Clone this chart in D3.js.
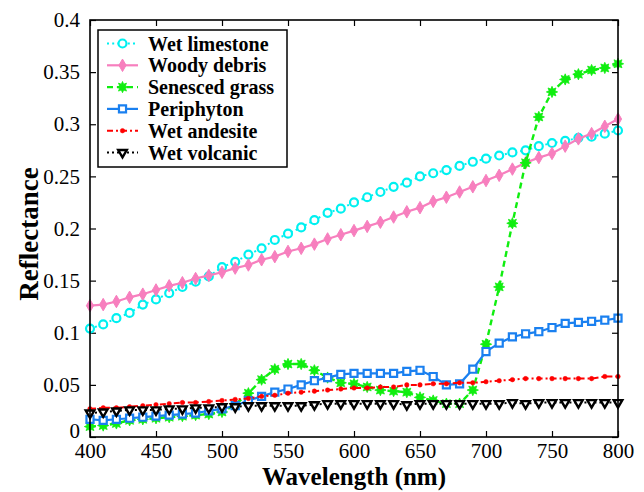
<!DOCTYPE html>
<html>
<head>
<meta charset="utf-8">
<script src="https://cdn.jsdelivr.net/npm/d3@7"></script>
<style>
  body { margin: 0; background: #fff; }
  svg text { font-family: "Liberation Serif", "DejaVu Serif", serif; }
</style>
</head>
<body>
<div id="chart"></div>
<script>
// wavelengths (nm)
const wavelengths = [400, 410, 420, 430, 440, 450, 460, 470, 480, 490, 500,
  510, 520, 530, 540, 550, 560, 570, 580, 590, 600,
  610, 620, 630, 640, 650, 660, 670, 680, 690, 700,
  710, 720, 730, 740, 750, 760, 770, 780, 790, 800];

const wetLimestone = [0.104, 0.108, 0.114, 0.119, 0.127, 0.132, 0.138, 0.144, 0.149, 0.154, 0.163,
  0.168, 0.175, 0.181, 0.189, 0.195, 0.201, 0.208, 0.215, 0.219, 0.225,
  0.230, 0.235, 0.240, 0.244, 0.250, 0.253, 0.256, 0.260, 0.264, 0.267,
  0.270, 0.273, 0.275, 0.279, 0.282, 0.284, 0.287, 0.288, 0.291, 0.294];

const woodyDebris = [0.126, 0.127, 0.130, 0.134, 0.137, 0.141, 0.145, 0.148, 0.152, 0.155, 0.158,
  0.162, 0.165, 0.170, 0.173, 0.178, 0.181, 0.185, 0.190, 0.194, 0.198,
  0.202, 0.206, 0.211, 0.216, 0.220, 0.226, 0.230, 0.235, 0.240, 0.246,
  0.251, 0.257, 0.263, 0.268, 0.272, 0.279, 0.286, 0.291, 0.298, 0.305];

const senescedGrass = [0.010, 0.011, 0.013, 0.016, 0.017, 0.018, 0.019, 0.020, 0.021, 0.022, 0.024,
  0.031, 0.042, 0.055, 0.065, 0.070, 0.070, 0.064, 0.057, 0.052, 0.051,
  0.048, 0.045, 0.044, 0.043, 0.038, 0.035, 0.032, 0.032, 0.045, 0.089,
  0.144, 0.205, 0.263, 0.307, 0.331, 0.343, 0.348, 0.352, 0.354, 0.358];

const periphyton = [0.017, 0.016, 0.017, 0.018, 0.019, 0.020, 0.021, 0.022, 0.023, 0.025, 0.027,
  0.030, 0.035, 0.039, 0.043, 0.046, 0.050, 0.054, 0.057, 0.060, 0.061,
  0.061, 0.061, 0.061, 0.063, 0.064, 0.058, 0.050, 0.051, 0.065, 0.082,
  0.090, 0.096, 0.099, 0.101, 0.105, 0.109, 0.110, 0.111, 0.112, 0.114];

const wetAndesite = [0.027, 0.028, 0.028, 0.029, 0.030, 0.031, 0.032, 0.033, 0.033, 0.034, 0.035,
  0.036, 0.037, 0.039, 0.040, 0.042, 0.043, 0.044, 0.045, 0.046, 0.047,
  0.047, 0.048, 0.048, 0.050, 0.050, 0.051, 0.051, 0.052, 0.052, 0.053,
  0.054, 0.055, 0.056, 0.056, 0.056, 0.056, 0.056, 0.056, 0.058, 0.058];

const wetVolcanic = [0.023, 0.024, 0.025, 0.026, 0.026, 0.026, 0.027, 0.027, 0.028, 0.028, 0.029,
  0.029, 0.030, 0.030, 0.030, 0.030, 0.030, 0.031, 0.032, 0.032, 0.032,
  0.032, 0.032, 0.032, 0.031, 0.032, 0.032, 0.032, 0.032, 0.032, 0.032,
  0.032, 0.033, 0.032, 0.033, 0.033, 0.033, 0.033, 0.033, 0.033, 0.033];

const xTicks = [400, 450, 500, 550, 600, 650, 700, 750, 800];
const yTicks = [0, 0.05, 0.1, 0.15, 0.2, 0.25, 0.3, 0.35, 0.4];

const FONT = "'Liberation Serif', 'DejaVu Serif', serif";

// 8-point filled star for the grass marker
const star8 = {
  draw(context, size) {
    const r = Math.sqrt(size / 2.2), ri = r * 0.55;
    for (let i = 0; i < 16; i++) {
      const a = (i * Math.PI) / 8 - Math.PI / 2;
      const rr = i % 2 ? ri : r;
      if (i === 0) context.moveTo(rr * Math.cos(a), rr * Math.sin(a));
      else context.lineTo(rr * Math.cos(a), rr * Math.sin(a));
    }
    context.closePath();
  }
};

const series = [
  { name: "Wet limestone", values: wetLimestone, color: "#00f0f0", dash: "2,3.2", width: 2,
    symbol: d3.symbolCircle, size: 50, fill: "#fff", stroke: 2.2, rotate: 0 },
  { name: "Woody debris", values: woodyDebris, color: "#f77fbe", dash: null, width: 2.2,
    symbol: d3.symbolDiamond, size: 45, fill: "#f77fbe", stroke: 1, rotate: 0 },
  { name: "Senesced grass", values: senescedGrass, color: "#10ee10", dash: "6,4", width: 2.4,
    symbol: star8, size: 70, fill: "#10ee10", stroke: 0.8, rotate: 0 },
  { name: "Periphyton", values: periphyton, color: "#1a80f0", dash: null, width: 2.2,
    symbol: d3.symbolSquare, size: 50, fill: "#fff", stroke: 2.2, rotate: 0 },
  { name: "Wet andesite", values: wetAndesite, color: "#ff0000", dash: "6,3,2,3", width: 2,
    symbol: d3.symbolCircle, size: 16, fill: "#ff0000", stroke: 0.5, rotate: 0 },
  { name: "Wet volcanic", values: wetVolcanic, color: "#000000", dash: "2,3", width: 2,
    symbol: d3.symbolTriangle, size: 32, fill: "#fff", stroke: 2.4, rotate: 180 }
];

const W = 644, H = 492;
const margin = { top: 20, right: 26, bottom: 55, left: 90 };
const width = W - margin.left - margin.right;
const height = H - margin.top - margin.bottom;

const svg = d3.select("#chart")
  .append("svg")
  .attr("width", W)
  .attr("height", H);

const g = svg.append("g")
  .attr("transform", `translate(${margin.left},${margin.top})`);

const x = d3.scaleLinear().domain([400, 800]).range([0, width]);
const y = d3.scaleLinear().domain([0, 0.4]).range([height, 0]);

// axes, ticks pointing inward on every side
const fmt = d => (d === 0 ? "0" : String(+d.toFixed(2)));

g.append("g")
  .attr("transform", `translate(0,${height})`)
  .attr("font-family", FONT)
  .call(d3.axisBottom(x).tickValues(xTicks).tickSize(-6).tickPadding(6).tickFormat(d3.format("d")))
  .call(a => a.select(".domain").remove())
  .selectAll("text").attr("font-size", 21).attr("fill", "#000");

g.append("g")
  .attr("font-family", FONT)
  .call(d3.axisLeft(y).tickValues(yTicks).tickSize(-6).tickPadding(10).tickFormat(fmt))
  .call(a => a.select(".domain").remove())
  .selectAll("text").attr("font-size", 21).attr("fill", "#000")
  .attr("dy", (d, i) => (i === 0 ? "0em" : "0.32em"));

g.append("g")
  .call(d3.axisTop(x).tickValues(xTicks).tickSize(-6).tickFormat(""))
  .call(a => a.select(".domain").remove());

g.append("g")
  .attr("transform", `translate(${width},0)`)
  .call(d3.axisRight(y).tickValues(yTicks).tickSize(-6).tickFormat(""))
  .call(a => a.select(".domain").remove());

g.selectAll(".tick line").attr("stroke", "#000").attr("stroke-width", 1.2);

// series lines and markers
const line = d3.line()
  .x((d, i) => x(wavelengths[i]))
  .y(d => y(d));

series.forEach(s => {
  g.append("path")
    .datum(s.values)
    .attr("fill", "none")
    .attr("stroke", s.color)
    .attr("stroke-width", s.width)
    .attr("stroke-dasharray", s.dash)
    .attr("d", line);

  g.append("g")
    .selectAll("path")
    .data(s.values)
    .join("path")
    .attr("transform", (d, i) => `translate(${x(wavelengths[i])},${y(d)}) rotate(${s.rotate})`)
    .attr("d", d3.symbol().type(s.symbol).size(s.size))
    .attr("fill", s.fill)
    .attr("stroke", s.color)
    .attr("stroke-width", s.stroke);
});

// frame
g.append("rect")
  .attr("width", width)
  .attr("height", height)
  .attr("fill", "none")
  .attr("stroke", "#000")
  .attr("stroke-width", 1.6);

// legend
const legend = g.append("g").attr("transform", "translate(8,10)");
legend.append("rect")
  .attr("width", 189)
  .attr("height", 137)
  .attr("fill", "#fff")
  .attr("stroke", "#000")
  .attr("stroke-width", 1.5);

series.forEach((s, i) => {
  const ly = 13.5 + i * 21.8;
  legend.append("line")
    .attr("x1", 9).attr("x2", 40)
    .attr("y1", ly).attr("y2", ly)
    .attr("stroke", s.color)
    .attr("stroke-width", s.width)
    .attr("stroke-dasharray", s.dash);
  legend.append("path")
    .attr("transform", `translate(24.5,${ly}) rotate(${s.rotate})`)
    .attr("d", d3.symbol().type(s.symbol).size(s.size))
    .attr("fill", s.fill)
    .attr("stroke", s.color)
    .attr("stroke-width", s.stroke);
  legend.append("text")
    .attr("x", 50)
    .attr("y", ly + 7)
    .attr("font-family", FONT)
    .attr("font-size", 20)
    .attr("font-weight", "bold")
    .text(s.name);
});

// axis titles
svg.append("text")
  .attr("x", margin.left + width / 2)
  .attr("y", 485)
  .attr("text-anchor", "middle")
  .attr("font-family", FONT)
  .attr("font-size", 25)
  .attr("font-weight", "bold")
  .text("Wavelength (nm)");

svg.append("text")
  .attr("transform", `translate(38,234) rotate(-90)`)
  .attr("text-anchor", "middle")
  .attr("font-family", FONT)
  .attr("font-size", 27)
  .attr("font-weight", "bold")
  .text("Reflectance");
</script>
</body>
</html>
